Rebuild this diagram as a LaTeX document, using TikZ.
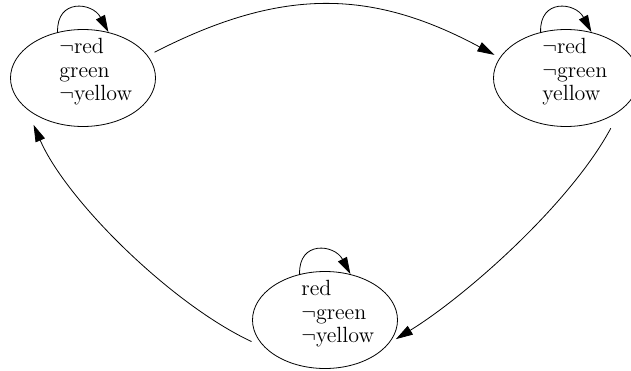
\documentclass[tikz,border=0pt]{standalone}
\usepackage{amssymb}
\usepackage{amsmath}
\usetikzlibrary{arrows.meta,shapes.geometric}

\begin{document}
\begin{tikzpicture}[x=0.5pt, y=0.5pt,
			>={Triangle[length=8.5pt,width=5pt]},
			state/.style={
				ellipse,
				draw,
				inner sep = 0pt,
				minimum width = 72.5pt,
				minimum height = 48.5pt},
			facts/.style={
				anchor = west,
				align = left,
				inner sep = 0pt,
				font = \fontsize{11}{11.75}\selectfont}]
			\useasboundingbox (0, 0) rectangle (631, 370);
			\node (s1) at (83, 292) [state] {};
			\node (s2) at (566, 292) [state] {};
			\node (s3) at (325, 50) [state] {};
			\node (s1t) at (59, 298) [facts] {$\neg$red\\green\\$\neg$yellow};
			\node (s2t) at (542, 298) [facts] {$\neg$red\\$\neg$green\\yellow};
			\node (s3t) at (301, 56) [facts] {red\\$\neg$green\\$\neg$yellow};
			% self loops
			\draw[->] (s1.119) .. controls +(92:17pt) and +(118:17pt) .. (s1.61);
			\draw[->] (s2.119) .. controls +(92:17pt) and +(118:17pt) .. (s2.61);
			\draw[->] (s3.119) .. controls +(92:17pt) and +(118:17pt) .. (s3.61);
			% transitions
			\draw[->, shorten <=3.75pt, shorten >=3pt] (s1.19) .. controls (280, 382) and (370, 382) .. (s2.163);
			\draw[->, shorten <=10pt, shorten >=4pt] (s2.-31) .. controls (570, 166) and (466, 74) .. (s3.-20);
			\draw[->, shorten <=7.5pt, shorten >=8.5pt] (s3.205) .. controls (171, 66) and (66, 170) .. (s1.209);
\end{tikzpicture}
\end{document}
